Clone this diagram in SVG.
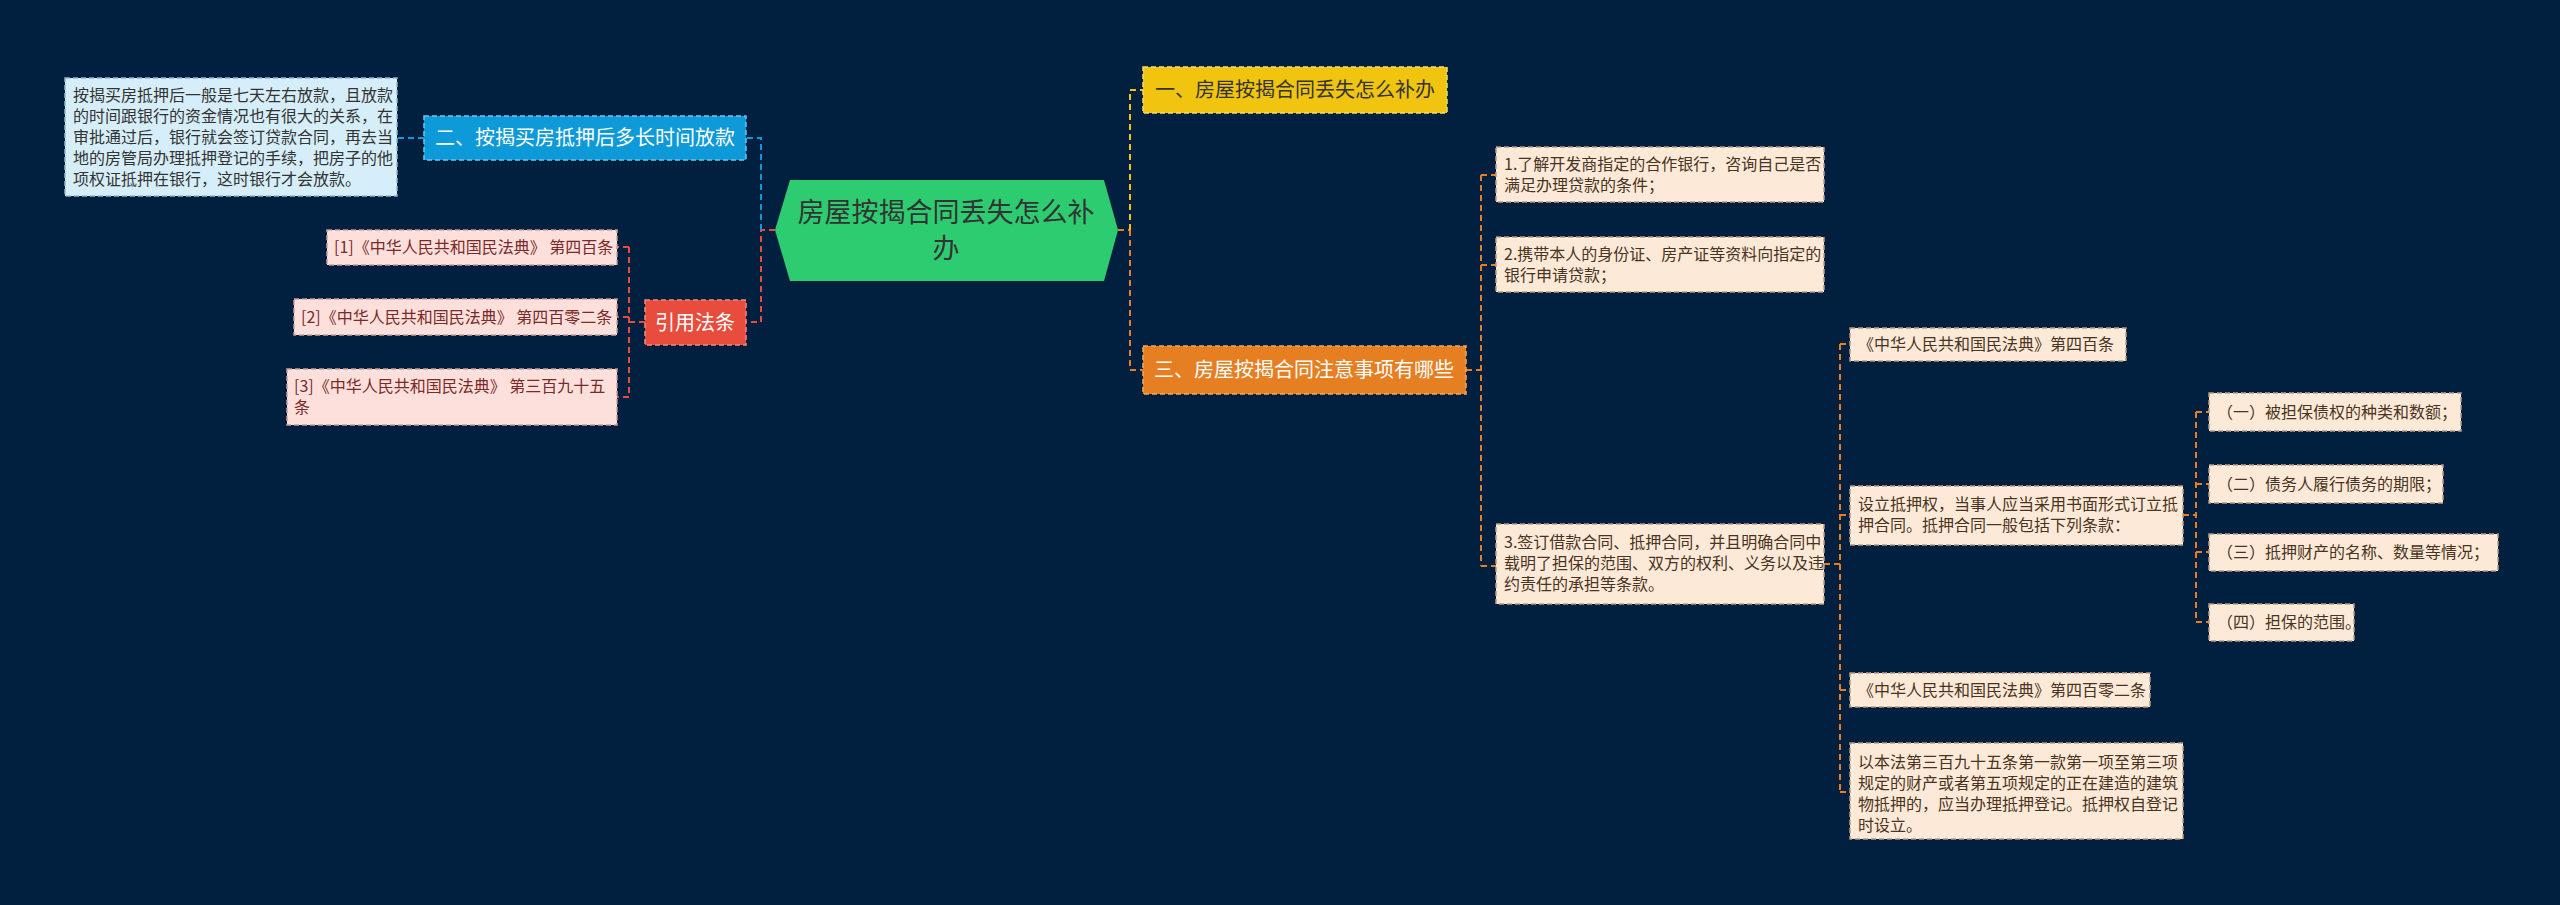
<svg xmlns="http://www.w3.org/2000/svg" width="2560" height="905" viewBox="0 0 2560 905">
<style>
text{font-family:"Noto Sans CJK SC","Noto Sans",sans-serif;}
.c{fill:none;stroke-width:2;stroke-dasharray:6 4;}
.box{stroke-width:1.5;stroke-dasharray:5 3;}
.it{fill:#fce9d8;stroke:#b89a80;}
.itt{font-size:16px;fill:#4a3320;}
.pk{fill:#fde0db;stroke:#c9a09a;}
.pkt{font-size:16px;fill:#7a2a2a;}
</style>
<rect width="2560" height="905" fill="#01203f"/>
<g id="connectors">
<path class="c" stroke="#e67e22" d="M1118,230 H1130"/>
<path class="c" stroke="#f1c40f" d="M1130,230 V90 H1143"/>
<path class="c" stroke="#e67e22" d="M1130,230 V370 H1143"/>
<path class="c" stroke="#e67e22" d="M1466,370 H1481 M1481,175 V566 M1481,175 H1496 M1481,265 H1496 M1481,566 H1496"/>
<path class="c" stroke="#e67e22" d="M1824,564 H1840 M1840,344 V792 M1840,344 H1850 M1840,515 H1850 M1840,690 H1850 M1840,792 H1850"/>
<path class="c" stroke="#e67e22" d="M2183,515 H2196 M2196,412 V622 M2196,412 H2209 M2196,484 H2209 M2196,552 H2209 M2196,622 H2209"/>
<path class="c" stroke="#e74c3c" d="M775,230 H761 V322 H746"/>
<path class="c" stroke="#0e9ad8" d="M761,230 V138 H746"/>
<path class="c" stroke="#0e9ad8" d="M424,138 H397"/>
<path class="c" stroke="#e74c3c" d="M645,322 H629 M629,247 V397 M629,247 H617 M629,317 H617 M629,397 H617"/>
</g>
<g id="center">
<polygon points="790,180 1104,180 1118,230 1104,281 790,281 775,230" fill="#2ecc71"/>
<text x="946" y="222" font-size="27" fill="#333" text-anchor="middle">房屋按揭合同丢失怎么补</text>
<text x="946" y="258" font-size="27" fill="#333" text-anchor="middle">办</text>
</g>
<g id="n-blue">
<rect class="box" x="424" y="116" width="322" height="44" fill="#0e9ad8" stroke="#6cc4ef"/>
<text x="585" y="145" font-size="20" fill="#fff" text-anchor="middle">二、按揭买房抵押后多长时间放款</text>
</g>
<g id="n-blue-info">
<rect class="box" x="65" y="78" width="332" height="118" fill="#d6eef9" stroke="#8fb7cc"/>
<text class="itt" fill="#333" style="fill:#333">
<tflow/>
<tspan x="73" y="101">按揭买房抵押后一般是七天左右放款，且放款</tspan>
<tspan x="73" y="122">的时间跟银行的资金情况也有很大的关系，在</tspan>
<tspan x="73" y="143">审批通过后，银行就会签订贷款合同，再去当</tspan>
<tspan x="73" y="164">地的房管局办理抵押登记的手续，把房子的他</tspan>
<tspan x="73" y="185">项权证抵押在银行，这时银行才会放款。</tspan>
</text>
</g>
<g id="n-red">
<rect class="box" x="645" y="300" width="101" height="45" fill="#e74c3c" stroke="#f08a7e"/>
<text x="695" y="330" font-size="20" fill="#fff" text-anchor="middle">引用法条</text>
</g>
<g id="ref1">
<rect class="box pk" x="327" y="230" width="290" height="35"/>
<text class="pkt" x="334" y="253">[1]《中华人民共和国民法典》 第四百条</text>
</g>
<g id="ref2">
<rect class="box pk" x="294" y="299" width="323" height="36"/>
<text class="pkt" x="301" y="323">[2]《中华人民共和国民法典》 第四百零二条</text>
</g>
<g id="ref3">
<rect class="box pk" x="287" y="369" width="330" height="56"/>
<text class="pkt"><tspan x="294" y="392">[3]《中华人民共和国民法典》 第三百九十五</tspan><tspan x="294" y="413">条</tspan></text>
</g>
<g id="n-yellow">
<rect class="box" x="1143" y="67" width="304" height="46" fill="#f1c40f" stroke="#f7dc6f"/>
<text x="1295" y="97" font-size="20" fill="#333" text-anchor="middle">一、房屋按揭合同丢失怎么补办</text>
</g>
<g id="n-orange">
<rect class="box" x="1143" y="346" width="323" height="48" fill="#e67e22" stroke="#f0a868"/>
<text x="1304" y="377" font-size="20" fill="#fff" text-anchor="middle">三、房屋按揭合同注意事项有哪些</text>
</g>
<g id="item1">
<rect class="box it" x="1496" y="147" width="328" height="55"/>
<text class="itt"><tspan x="1504" y="170">1.了解开发商指定的合作银行，咨询自己是否</tspan><tspan x="1504" y="191">满足办理贷款的条件；</tspan></text>
</g>
<g id="item2">
<rect class="box it" x="1496" y="237" width="328" height="55"/>
<text class="itt"><tspan x="1504" y="260">2.携带本人的身份证、房产证等资料向指定的</tspan><tspan x="1504" y="281">银行申请贷款；</tspan></text>
</g>
<g id="item3">
<rect class="box it" x="1496" y="524" width="328" height="80"/>
<text class="itt"><tspan x="1504" y="548">3.签订借款合同、抵押合同，并且明确合同中</tspan><tspan x="1504" y="569">载明了担保的范围、双方的权利、义务以及违</tspan><tspan x="1504" y="590">约责任的承担等条款。</tspan></text>
</g>
<g id="law400">
<rect class="box it" x="1850" y="328" width="276" height="33"/>
<text class="itt" x="1858" y="350">《中华人民共和国民法典》第四百条</text>
</g>
<g id="mortgage">
<rect class="box it" x="1850" y="486" width="333" height="59"/>
<text class="itt"><tspan x="1858" y="510">设立抵押权，当事人应当采用书面形式订立抵</tspan><tspan x="1858" y="531">押合同。抵押合同一般包括下列条款：</tspan></text>
</g>
<g id="law402">
<rect class="box it" x="1850" y="673" width="300" height="34"/>
<text class="itt" x="1858" y="696">《中华人民共和国民法典》第四百零二条</text>
</g>
<g id="law402text">
<rect class="box it" x="1850" y="743" width="333" height="96"/>
<text class="itt"><tspan x="1858" y="768">以本法第三百九十五条第一款第一项至第三项</tspan><tspan x="1858" y="789">规定的财产或者第五项规定的正在建造的建筑</tspan><tspan x="1858" y="810">物抵押的，应当办理抵押登记。抵押权自登记</tspan><tspan x="1858" y="831">时设立。</tspan></text>
</g>
<g id="s1">
<rect class="box it" x="2209" y="393" width="252" height="38"/>
<text class="itt" x="2217" y="418">（一）被担保债权的种类和数额；</text>
</g>
<g id="s2">
<rect class="box it" x="2209" y="465" width="234" height="38"/>
<text class="itt" x="2217" y="490">（二）债务人履行债务的期限；</text>
</g>
<g id="s3">
<rect class="box it" x="2209" y="534" width="289" height="37"/>
<text class="itt" x="2217" y="558">（三）抵押财产的名称、数量等情况；</text>
</g>
<g id="s4">
<rect class="box it" x="2209" y="604" width="145" height="37"/>
<text class="itt" x="2217" y="628">（四）担保的范围。</text>
</g>
</svg>
